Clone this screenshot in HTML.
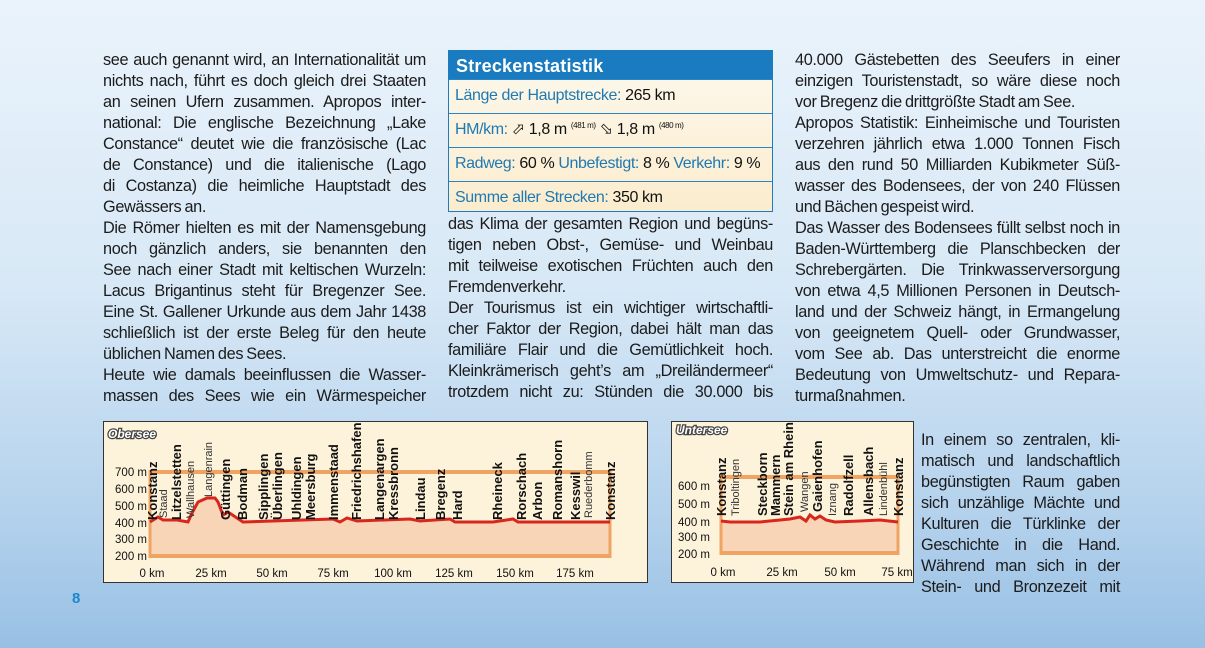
<!DOCTYPE html>
<html><head><meta charset="utf-8"><style>
html,body{margin:0;padding:0}
body{width:1205px;height:648px;overflow:hidden;position:relative;background:linear-gradient(180deg,#eaf3fb 0%,#d7e8f6 45%,#b3d1ec 80%,#98c0e4 100%);font-family:"Liberation Sans",sans-serif;color:#1b1b1b}
.l{position:absolute;height:21px;line-height:21px;font-size:16.3px;letter-spacing:-0.35px;word-spacing:-1px;text-align:justify;text-align-last:justify;white-space:nowrap;overflow:visible}
.l.e{text-align-last:left}
.c1{left:103px;width:323px}
.c2{left:448px;width:325px}
.c3{left:795px;width:325px}
.c4{left:921px;width:199px}
#box{position:absolute;left:448px;top:50px;width:323px;height:160px;border:1px solid #1c7cc0;background:linear-gradient(180deg,#fdf9ee,#fbeccd)}
#box .h{background:#1a7bc0;color:#fff;font-weight:bold;font-size:18px;height:28px;line-height:30px;padding-left:7px;letter-spacing:0.2px}
#box .r{height:33px;line-height:32px;padding-left:6px;font-size:16px;border-top:1px solid #2a86c3;letter-spacing:-0.4px;color:#111;white-space:nowrap}
#box .r:first-of-type{border-top:none}
#box b{color:#1f79b3;font-weight:normal}
sup{font-size:8px;line-height:0;vertical-align:6px}
#pg{position:absolute;left:72px;top:590px;color:#1d86cc;font-weight:bold;font-size:15px}
svg{position:absolute;left:0;top:0}
</style></head><body>
<div class="l c1" style="top:50px">see auch genannt wird, an Internationalität um</div>
<div class="l c1" style="top:71px">nichts nach, führt es doch gleich drei Staaten</div>
<div class="l c1" style="top:92px">an seinen Ufern zusammen. Apropos inter-</div>
<div class="l c1" style="top:113px">national: Die englische Bezeichnung „Lake</div>
<div class="l c1" style="top:134px">Constance“ deutet wie die französische (Lac</div>
<div class="l c1" style="top:155px">de Constance) und die italienische (Lago</div>
<div class="l c1" style="top:176px">di Costanza) die heimliche Hauptstadt des</div>
<div class="l c1 e" style="top:197px">Gewässers an.</div>
<div class="l c1" style="top:218px">Die Römer hielten es mit der Namensgebung</div>
<div class="l c1" style="top:239px">noch gänzlich anders, sie benannten den</div>
<div class="l c1" style="top:260px">See nach einer Stadt mit keltischen Wurzeln:</div>
<div class="l c1" style="top:281px">Lacus Brigantinus steht für Bregenzer See.</div>
<div class="l c1" style="top:302px">Eine St. Gallener Urkunde aus dem Jahr 1438</div>
<div class="l c1" style="top:323px">schließlich ist der erste Beleg für den heute</div>
<div class="l c1 e" style="top:344px">üblichen Namen des Sees.</div>
<div class="l c1" style="top:365px">Heute wie damals beeinflussen die Wasser-</div>
<div class="l c1" style="top:386px">massen des Sees wie ein Wärmespeicher</div>

<div id="box"><div class="h">Streckenstatistik</div>
<div class="r"><b>Länge der Hauptstrecke:</b> 265 km</div>
<div class="r"><b>HM/km:</b> ⬀ 1,8 m <sup>(481 m)</sup> ⬂ 1,8 m <sup>(480 m)</sup></div>
<div class="r"><b>Radweg:</b> 60 % <b>Unbefestigt:</b> 8 % <b>Verkehr:</b> 9 %</div>
<div class="r"><b>Summe aller Strecken:</b> 350 km</div></div>

<div class="l c2" style="top:214px">das Klima der gesamten Region und begüns-</div>
<div class="l c2" style="top:235px">tigen neben Obst-, Gemüse- und Weinbau</div>
<div class="l c2" style="top:256px">mit teilweise exotischen Früchten auch den</div>
<div class="l c2 e" style="top:277px">Fremdenverkehr.</div>
<div class="l c2" style="top:298px">Der Tourismus ist ein wichtiger wirtschaftli-</div>
<div class="l c2" style="top:319px">cher Faktor der Region, dabei hält man das</div>
<div class="l c2" style="top:340px">familiäre Flair und die Gemütlichkeit hoch.</div>
<div class="l c2" style="top:361px">Kleinkrämerisch geht’s am „Dreiländermeer“</div>
<div class="l c2" style="top:382px">trotzdem nicht zu: Stünden die 30.000 bis</div>

<div class="l c3" style="top:50px">40.000 Gästebetten des Seeufers in einer</div>
<div class="l c3" style="top:71px">einzigen Touristenstadt, so wäre diese noch</div>
<div class="l c3 e" style="top:92px">vor Bregenz die drittgrößte Stadt am See.</div>
<div class="l c3" style="top:113px">Apropos Statistik: Einheimische und Touristen</div>
<div class="l c3" style="top:134px">verzehren jährlich etwa 1.000 Tonnen Fisch</div>
<div class="l c3" style="top:155px">aus den rund 50 Milliarden Kubikmeter Süß-</div>
<div class="l c3" style="top:176px">wasser des Bodensees, der von 240 Flüssen</div>
<div class="l c3 e" style="top:197px">und Bächen gespeist wird.</div>
<div class="l c3" style="top:218px">Das Wasser des Bodensees füllt selbst noch in</div>
<div class="l c3" style="top:239px">Baden-Württemberg die Planschbecken der</div>
<div class="l c3" style="top:260px">Schrebergärten. Die Trinkwasserversorgung</div>
<div class="l c3" style="top:281px">von etwa 4,5 Millionen Personen in Deutsch-</div>
<div class="l c3" style="top:302px">land und der Schweiz hängt, in Ermangelung</div>
<div class="l c3" style="top:323px">von geeignetem Quell- oder Grundwasser,</div>
<div class="l c3" style="top:344px">vom See ab. Das unterstreicht die enorme</div>
<div class="l c3" style="top:365px">Bedeutung von Umweltschutz- und Repara-</div>
<div class="l c3 e" style="top:386px">turmaßnahmen.</div>
<div class="l c4" style="top:430px">In einem so zentralen, kli-</div>
<div class="l c4" style="top:451px">matisch und landschaftlich</div>
<div class="l c4" style="top:472px">begünstigten Raum gaben</div>
<div class="l c4" style="top:493px">sich unzählige Mächte und</div>
<div class="l c4" style="top:514px">Kulturen die Türklinke der</div>
<div class="l c4" style="top:535px">Geschichte in die Hand.</div>
<div class="l c4" style="top:556px">Während man sich in der</div>
<div class="l c4" style="top:577px">Stein- und Bronzezeit mit</div>

<div id="pg">8</div>

<svg width="1205" height="648" font-family="Liberation Sans Narrow, Liberation Sans, sans-serif">
<!-- Obersee -->
<rect x="103.5" y="421.5" width="544" height="161" fill="#fdf3da" stroke="#333" stroke-width="1"/>
<text x="108" y="438" font-size="12" font-style="italic" font-weight="bold" fill="#fff" stroke="#444" stroke-width="2.5" paint-order="stroke">Obersee</text>
<path d="M150,522 L150,523 L158,517 L163,520 L177,520 L188,522 L192,513 L198,502 L207,498 L215,498 L218,502 L223,515 L228,512 L243,522 L333,519 L340,522 L347,518 L357,521 L410,519 L420,521 L450,519 L455,522 L493,522 L513,519 L518,522 L610,522 L610,556 L150,556 Z" fill="#f8d5b6"/>
<g stroke="#f0a463" fill="none">
<line x1="150" y1="472" x2="611" y2="472" stroke-width="4"/>
<line x1="150" y1="556" x2="611" y2="556" stroke-width="4"/>
<line x1="150" y1="470" x2="150" y2="558" stroke-width="3"/>
<line x1="610" y1="470" x2="610" y2="558" stroke-width="3"/>
</g>
<path d="M150,522 L158,517 L163,520 L177,520 L188,522 L192,513 L198,502 L207,498 L215,498 L218,502 L223,515 L228,512 L243,522 L333,519 L340,522 L347,518 L357,521 L410,519 L420,521 L450,519 L455,522 L493,522 L513,519 L518,522 L610,522" fill="none" stroke="#d8261c" stroke-width="3"/>
<g font-size="11.5" fill="#111" text-anchor="end">
<text x="147" y="476">700 m</text><text x="147" y="493">600 m</text><text x="147" y="510">500 m</text><text x="147" y="527">400 m</text><text x="147" y="543">300 m</text><text x="147" y="560">200 m</text>
</g>
<g font-size="11.5" fill="#111" text-anchor="middle">
<text x="152" y="577">0 km</text><text x="211" y="577">25 km</text><text x="272" y="577">50 km</text><text x="333" y="577">75 km</text><text x="393" y="577">100 km</text><text x="454" y="577">125 km</text><text x="515" y="577">150 km</text><text x="575" y="577">175 km</text>
</g>
<g font-size="13" font-weight="bold" fill="#111">
<text transform="translate(157,520) rotate(-90)">Konstanz</text>
<text transform="translate(181,520) rotate(-90)">Litzelstetten</text>
<text transform="translate(230,520) rotate(-90)">Güttingen</text>
<text transform="translate(247,520) rotate(-90)">Bodman</text>
<text transform="translate(268,520) rotate(-90)">Sipplingen</text>
<text transform="translate(282,520) rotate(-90)">Überlingen</text>
<text transform="translate(301,520) rotate(-90)">Uhldingen</text>
<text transform="translate(315,520) rotate(-90)">Meersburg</text>
<text transform="translate(338,520) rotate(-90)">Immenstaad</text>
<text transform="translate(361,520) rotate(-90)">Friedrichshafen</text>
<text transform="translate(384,520) rotate(-90)">Langenargen</text>
<text transform="translate(398,520) rotate(-90)">Kressbronn</text>
<text transform="translate(425,520) rotate(-90)">Lindau</text>
<text transform="translate(445,520) rotate(-90)">Bregenz</text>
<text transform="translate(462,520) rotate(-90)">Hard</text>
<text transform="translate(502,520) rotate(-90)">Rheineck</text>
<text transform="translate(526,520) rotate(-90)">Rorschach</text>
<text transform="translate(542,520) rotate(-90)">Arbon</text>
<text transform="translate(562,520) rotate(-90)">Romanshorn</text>
<text transform="translate(580,520) rotate(-90)">Kesswil</text>
<text transform="translate(615,520) rotate(-90)">Konstanz</text>
</g>
<g font-size="11" fill="#333">
<text transform="translate(167,518) rotate(-90)">Staad</text>
<text transform="translate(194,518) rotate(-90)">Wallhausen</text>
<text transform="translate(212,497) rotate(-90)">Langenrain</text>
<text transform="translate(592,518) rotate(-90)">Ruederbomm</text>
</g>
<!-- Untersee -->
<rect x="671.5" y="421.5" width="242" height="161" fill="#fdf3da" stroke="#333" stroke-width="1"/>
<text x="676" y="434" font-size="12" font-style="italic" font-weight="bold" fill="#fff" stroke="#444" stroke-width="2.5" paint-order="stroke">Untersee</text>
<path d="M721,521 L730,522 L760,522 L790,519 L800,517 L806,521 L810,515 L815,519 L820,516 L826,520 L835,522 L860,521 L880,520 L898,522 L898,553 L721,553 Z" fill="#f8d5b6"/>
<g stroke="#f0a463" fill="none">
<line x1="720" y1="477" x2="899" y2="477" stroke-width="4"/>
<line x1="720" y1="553" x2="899" y2="553" stroke-width="4"/>
<line x1="721" y1="475" x2="721" y2="555" stroke-width="3"/>
<line x1="898" y1="475" x2="898" y2="555" stroke-width="3"/>
</g>
<path d="M721,521 L730,522 L760,522 L790,519 L800,517 L806,521 L810,515 L815,519 L820,516 L826,520 L835,522 L860,521 L880,520 L898,522" fill="none" stroke="#d8261c" stroke-width="3"/>
<g font-size="11.5" fill="#111" text-anchor="end">
<text x="710" y="490">600 m</text><text x="710" y="508">500 m</text><text x="710" y="526">400 m</text><text x="710" y="541">300 m</text><text x="710" y="558">200 m</text>
</g>
<g font-size="11.5" fill="#111" text-anchor="middle">
<text x="723" y="576">0 km</text><text x="782" y="576">25 km</text><text x="840" y="576">50 km</text><text x="897" y="576">75 km</text>
</g>
<g font-size="13" font-weight="bold" fill="#111">
<text transform="translate(726,516) rotate(-90)">Konstanz</text>
<text transform="translate(767,516) rotate(-90)">Steckborn</text>
<text transform="translate(780,516) rotate(-90)">Mammern</text>
<text transform="translate(793,516) rotate(-90)">Stein am Rhein</text>
<text transform="translate(822,512) rotate(-90)">Gaienhofen</text>
<text transform="translate(853,516) rotate(-90)">Radolfzell</text>
<text transform="translate(873,516) rotate(-90)">Allensbach</text>
<text transform="translate(903,516) rotate(-90)">Konstanz</text>
</g>
<g font-size="11" fill="#333">
<text transform="translate(739,516) rotate(-90)">Triboltingen</text>
<text transform="translate(808,512) rotate(-90)">Wangen</text>
<text transform="translate(836,516) rotate(-90)">Iznang</text>
<text transform="translate(887,516) rotate(-90)">Lindenbühl</text>
</g>
</svg>
</body></html>
